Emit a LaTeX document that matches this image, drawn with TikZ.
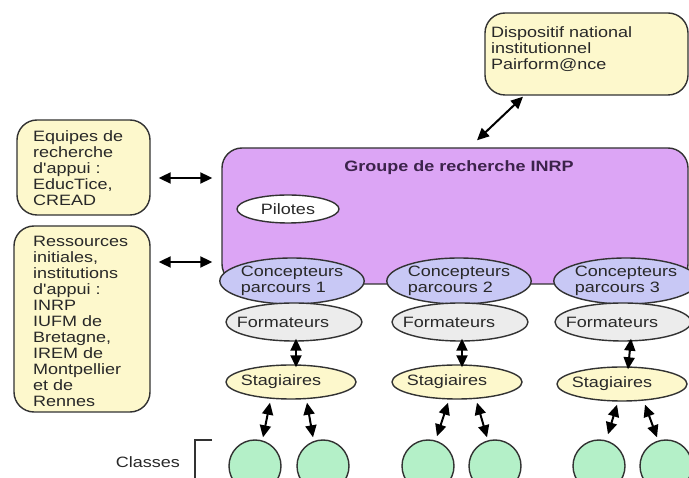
\documentclass[tikz,border=0pt]{standalone}
\usepackage{fontspec}
\newfontfamily\dfont{Liberation Sans}[FakeStretch=1.2]
\usetikzlibrary{arrows.meta,shapes.geometric}
\definecolor{boxyellow}{RGB}{253,248,204}
\definecolor{grppurple}{RGB}{220,165,245}
\definecolor{concblue}{RGB}{200,200,245}
\definecolor{formgray}{RGB}{236,236,236}
\definecolor{classgreen}{RGB}{180,240,200}
\definecolor{edgec}{RGB}{50,50,50}
\definecolor{txt}{RGB}{40,40,40}
\definecolor{titlec}{RGB}{60,35,75}
\begin{document}
\begin{tikzpicture}[x=1pt,y=-1pt,
  every node/.style={font=\dfont\fontsize{15}{16}\selectfont, text=txt},
  rbox/.style={draw=edgec, line width=1.4pt, rounded corners=20pt, inner sep=0pt},
  ell/.style={ellipse, draw=edgec, line width=1.4pt, inner sep=0pt},
  conc/.style={ell, fill=concblue, minimum width=144pt, minimum height=46pt, align=left},
  form/.style={ell, fill=formgray, minimum width=136pt, minimum height=38pt, execute at begin node={\hspace*{-22pt}}},
  stag/.style={ell, fill=boxyellow, minimum width=130pt, minimum height=34pt, execute at begin node={\hspace*{-20pt}}},
  classe/.style={ell, fill=classgreen, minimum width=52pt, minimum height=52pt},
  dbl/.style={{Triangle[length=12pt,width=11pt]}-{Triangle[length=12pt,width=11pt]}, line width=2pt, draw=black},
  txtnode/.style={anchor=north west, align=left, inner sep=0pt}
]
\useasboundingbox (0,0) rectangle (689,478);
\fill[white] (0,0) rectangle (689,478);

% top box
\node[rbox, fill=boxyellow, minimum width=203pt, minimum height=82pt] (disp) at (586.5,54) {};
\node[txtnode] (disptext) at (491,26) {Dispositif national\\institutionnel\\Pairform@nce};

% left boxes
\node[rbox, fill=boxyellow, minimum width=133pt, minimum height=95pt] (equipes) at (83.5,167.5) {};
\node[txtnode] (equipestext) at (33,130) {Equipes de\\recherche\\d'appui :\\EducTice,\\CREAD};
\node[rbox, fill=boxyellow, minimum width=136pt, minimum height=186pt] (ress) at (82,319) {};
\node[txtnode] (resstext) at (33,236) {Ressources\\initiales,\\institutions\\d'appui :\\INRP\\IUFM de\\Bretagne,\\IREM de\\Montpellier\\et de\\Rennes};

% group box
\node[rbox, fill=grppurple, minimum width=466pt, minimum height=136pt] (grp) at (455,216) {};
\node[font=\dfont\bfseries\fontsize{15}{16}\selectfont, text=titlec] (title) at (459,168) {Groupe de recherche INRP};
\node[ell, fill=white, minimum width=102pt, minimum height=28pt] (pil) at (288,209) {Pilotes};

% columns
\node[conc] (c1) at (292,281) {Concepteurs\\parcours 1};
\node[conc] (c2) at (459,281) {Concepteurs\\parcours 2};
\node[conc] (c3) at (626,281) {Concepteurs\\parcours 3};
\node[form] (f1) at (294,322) {Formateurs};
\node[form] (f2) at (460,322) {Formateurs};
\node[form] (f3) at (623,322) {Formateurs};
\node[stag] (s1) at (291,382) {Stagiaires};
\node[stag] (s2) at (457,382) {Stagiaires};
\node[stag] (s3) at (622,384) {Stagiaires};
\node[classe] (k1) at (255,466) {};
\node[classe] (k2) at (323,466) {};
\node[classe] (k3) at (428,466) {};
\node[classe] (k4) at (495,466) {};
\node[classe] (k5) at (599,466) {};
\node[classe] (k6) at (666,466) {};

% Classes label and bracket
\node (classes) at (148,462) {Classes};
\coordinate (brtop) at (212,440);
\draw[line width=1.4pt, draw=edgec] (brtop) -- (195,440) -- (195,480);

% connectors
\draw[dbl] ([xshift=-63.5pt,yshift=-1pt]disp.south) -- ([xshift=22pt,yshift=7pt]grp.north);
\draw[dbl] ([xshift=8pt,yshift=-10.5pt]equipes.east) -- ([xshift=-9pt,yshift=38pt]grp.west);
\draw[dbl] ([xshift=8pt,yshift=57pt]ress.east) -- ([xshift=-9pt,yshift=-46pt]grp.west);
\draw[dbl] ([xshift=2pt,yshift=3pt]f1.south) -- ([xshift=5pt,yshift=-3pt]s1.north);
\draw[dbl] ([xshift=2pt,yshift=3pt]f2.south) -- ([xshift=5pt,yshift=-3pt]s2.north);
\draw[dbl] ([xshift=8pt,yshift=3pt]f3.south) -- ([xshift=6pt,yshift=-3pt]s3.north);
\draw[dbl] ([xshift=-21pt,yshift=-3pt]s1.south) -- ([xshift=8pt,yshift=2pt]k1.north);
\draw[dbl] ([xshift=16pt,yshift=-3pt]s1.south) -- ([xshift=-10pt,yshift=2pt]k2.north);
\draw[dbl] ([xshift=-9pt,yshift=-3pt]s2.south) -- ([xshift=9pt,yshift=3pt]k3.north);
\draw[dbl] ([xshift=20pt,yshift=-3pt]s2.south) -- ([xshift=-8pt,yshift=2pt]k4.north);
\draw[dbl] ([xshift=-5pt,yshift=-3pt]s3.south) -- ([xshift=9pt,yshift=5pt]k5.north);
\draw[dbl] ([xshift=23pt,yshift=-3pt]s3.south) -- ([xshift=-9pt,yshift=2pt]k6.north);
\end{tikzpicture}
\end{document}
